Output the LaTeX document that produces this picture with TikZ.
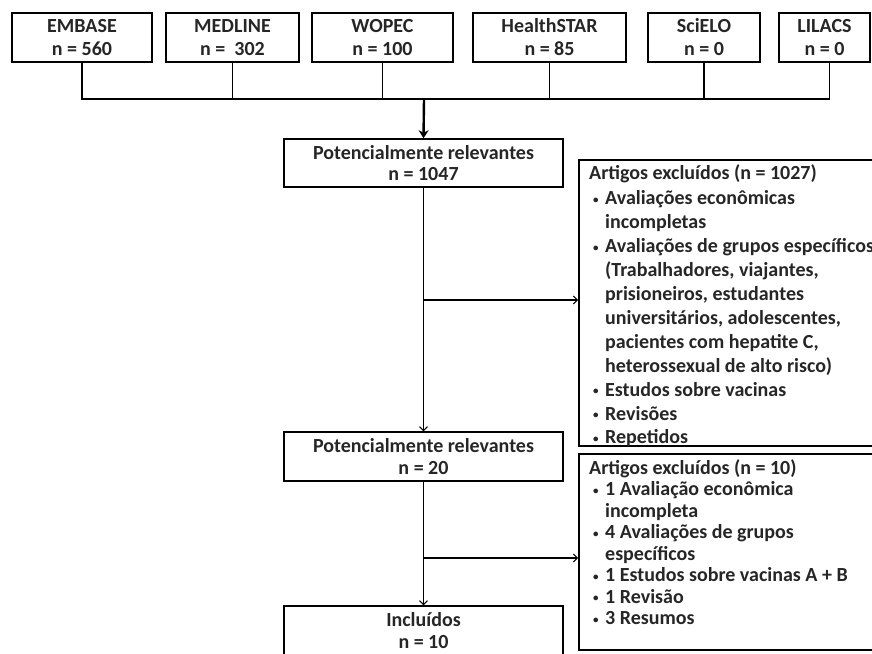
\documentclass[tikz,border=0pt]{standalone}
\usepackage{fontspec}
\setmainfont{Carlito}
\usetikzlibrary{arrows.meta}
\newcommand\bul{\hspace*{4pt}\makebox[12pt][l]{\raisebox{1.5pt}{\fontsize{11}{11}\selectfont\textbullet}}}
\newcommand\ind{\hspace*{16pt}}
\newcommand\fixls{\lineskiplimit=-100pt\relax}
\begin{document}
\begin{tikzpicture}[x=1pt,y=-1pt,
  box/.style={draw, line width=1.5pt, inner sep=0pt, align=center,
    font=\fontsize{20}{23}\selectfont\bfseries\fixls, text=black!85},
  exbox/.style={draw, line width=1.5pt, inner sep=0pt, anchor=north west},
  extext/.style={inner sep=0pt, anchor=north west, align=left, text=black!85},
  conn/.style={line width=1.1pt},
  arr/.style={line width=1.1pt, -{Straight Barb[length=4pt,width=8pt,line width=0.9pt]}},
  bigarr/.style={line width=2.4pt, -{Stealth[length=8pt,width=10pt]}}
]
\useasboundingbox (0,0) rectangle (872,653);
\clip (0,0) rectangle (872,653);
\fill[white] (0,0) rectangle (872,653);

% source boxes
\node[box, minimum width=140pt, minimum height=49pt] (embase) at (82,37.5) {EMBASE\\n = 560};
\node[box, minimum width=133pt, minimum height=49pt] (medline) at (232.5,37.5) {MEDLINE\\n =\ \ 302};
\node[box, minimum width=141pt, minimum height=49pt] (wopec) at (382.5,37.5) {WOPEC\\n = 100};
\node[box, minimum width=153pt, minimum height=49pt] (health) at (549.5,37.5) {HealthSTAR\\n = 85};
\node[box, minimum width=112pt, minimum height=49pt] (scielo) at (704,37.5) {SciELO\\n = 0};
\node[box, minimum width=91pt, minimum height=49pt] (lilacs) at (824.5,37.5) {LILACS\\n = 0};

\coordinate (bus) at (424,99);
\draw[conn] (embase.south) |- (bus);
\draw[conn] (medline.south) -- (medline.south |- bus);
\draw[conn] (wopec.south) -- (wopec.south |- bus);
\draw[conn] (health.south) -- (health.south |- bus);
\draw[conn] (scielo.south) -- (scielo.south |- bus);
\draw[conn] ([xshift=5pt]lilacs.south) |- (bus);

% main flow
\node[box, minimum width=279pt, minimum height=48pt, font=\fontsize{20}{21.5}\selectfont\bfseries\fixls] (potA) at (423.5,163) {Potencialmente relevantes\\n = 1047};
\node[box, minimum width=279pt, minimum height=49pt, font=\fontsize{20}{21.5}\selectfont\bfseries\fixls] (potB) at (423.5,456.5) {Potencialmente relevantes\\n = 20};
\node[box, minimum width=279pt, minimum height=49pt, font=\fontsize{20}{21.5}\selectfont\bfseries\fixls] (incl) at (423.5,630.5) {Incluídos\\n = 10};

\draw[bigarr] (bus) -- (potA.north);
\draw[arr] (potA.south) -- (potB.north);
\draw[arr] (potB.south) -- (incl.north);

% exclusion boxes
\node[exbox, minimum width=330pt, minimum height=286pt] (ex1) at (578,159) {};
\node[exbox, minimum width=330pt, minimum height=196pt] (ex2) at (578,453) {};

\coordinate (j1) at (424,300);
\coordinate (j2) at (424,558);
\draw[arr] (j1) -- (j1 -| ex1.west);
\draw[arr] (j2) -- (j2 -| ex2.west);

\node[extext, font=\fontsize{20}{23.9}\selectfont\bfseries\fixls] (ex1t) at (589,164) {%
Artigos excluídos (n = 1027)\\[2pt]
\bul Avaliações econômicas\\
\ind incompletas\\
\bul Avaliações de grupos específicos\\
\ind (Trabalhadores, viajantes,\\
\ind prisioneiros, estudantes\\
\ind universitários, adolescentes,\\
\ind pacientes com hepatite C,\\
\ind heterossexual de alto risco)\\
\bul Estudos sobre vacinas\\
\bul Revisões\\
\bul Repetidos};

\node[extext, font=\fontsize{20}{21.5}\selectfont\bfseries\fixls] (ex2t) at (589,459) {%
Artigos excluídos (n = 10)\\
\bul 1 Avaliação econômica\\
\ind incompleta\\
\bul 4 Avaliações de grupos\\
\ind específicos\\
\bul 1 Estudos sobre vacinas A + B\\
\bul 1 Revisão\\
\bul 3 Resumos};
\end{tikzpicture}
\end{document}
